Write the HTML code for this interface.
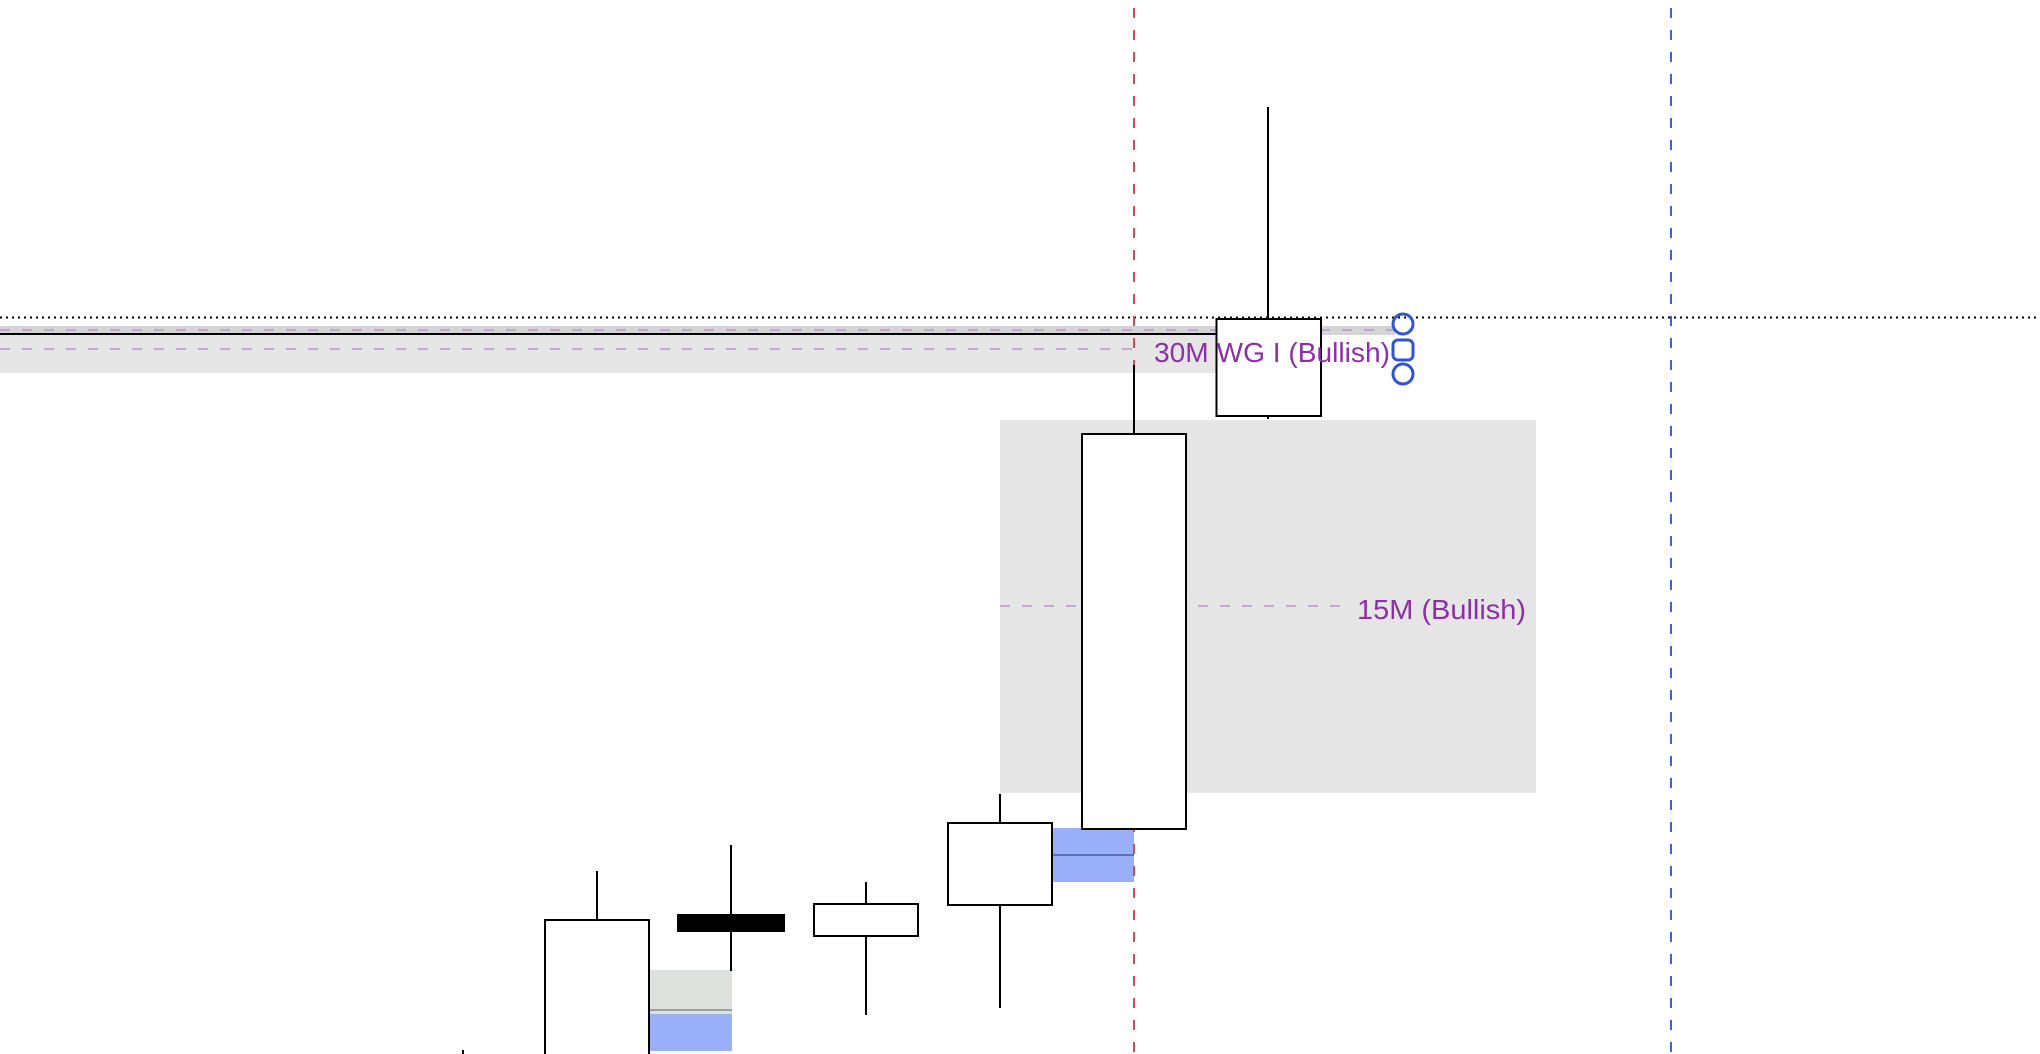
<!DOCTYPE html>
<html><head><meta charset="utf-8"><style>
html,body{margin:0;padding:0;background:#fff;width:2040px;height:1054px;overflow:hidden}
svg{display:block}
text{font-family:"Liberation Sans","DejaVu Sans",sans-serif}
</style></head><body>
<svg width="2040" height="1054" viewBox="0 0 2040 1054" xmlns="http://www.w3.org/2000/svg">
<rect x="0" y="326" width="1395" height="9" fill="#d4d4d4"/>
<rect x="0" y="335" width="1321" height="38" fill="#e6e6e6"/>
<line x1="0" y1="334" x2="1216" y2="334" stroke="#000" stroke-width="2"/>
<line x1="0" y1="330" x2="1395" y2="330" stroke="#c4a3d4" stroke-width="2" stroke-dasharray="10 12"/>
<line x1="0" y1="349" x2="1143" y2="349" stroke="#c9a6d8" stroke-width="2" stroke-dasharray="10 12"/>
<line x1="0" y1="317.5" x2="2040" y2="317.5" stroke="#000" stroke-width="2" stroke-dasharray="2 4"/>
<rect x="1000" y="420" width="536" height="373" fill="#e6e6e6"/>
<line x1="1000" y1="606" x2="1340" y2="606" stroke="#c9a6d8" stroke-width="2" stroke-dasharray="10 12"/>
<text x="1357" y="619" font-size="28" fill="#8e2fa8" textLength="169" lengthAdjust="spacingAndGlyphs">15M (Bullish)</text>
<rect x="1052" y="828" width="82" height="54" fill="#99aff7"/>
<line x1="1052" y1="855" x2="1134" y2="855" stroke="#5a6fb5" stroke-width="2"/>
<rect x="649" y="970" width="83" height="44" fill="#dce1de"/>
<line x1="649" y1="1010" x2="732" y2="1010" stroke="#9a9f9c" stroke-width="2"/>
<rect x="649" y="1014" width="83" height="37" fill="#99aff7"/>
<line x1="1134" y1="8" x2="1134" y2="1054" stroke="#e04850" stroke-width="2" stroke-dasharray="10 12"/>
<line x1="1671" y1="8" x2="1671" y2="1054" stroke="#3a5ef0" stroke-width="2" stroke-dasharray="10 12"/>
<g stroke="#000" stroke-width="2" fill="#fff">
<line x1="463" y1="1050" x2="463" y2="1054"/>
<line x1="597" y1="871" x2="597" y2="920"/>
<rect x="545" y="920" width="104" height="140"/>
<line x1="731" y1="845" x2="731" y2="971"/>
<rect x="678" y="915" width="106" height="16" fill="#000"/>
<line x1="866" y1="882" x2="866" y2="1015"/>
<rect x="814" y="904" width="104" height="32"/>
<line x1="1000" y1="794" x2="1000" y2="1008"/>
<rect x="948" y="823" width="104" height="82"/>
<line x1="1134" y1="365" x2="1134" y2="434"/>
<rect x="1082" y="434" width="104" height="395"/>
<line x1="1268" y1="107" x2="1268" y2="419"/>
<rect x="1216.5" y="319" width="104.5" height="97"/>
</g>
<text x="1154" y="362" font-size="28" fill="#8e2fa8" textLength="236" lengthAdjust="spacingAndGlyphs">30M WG I (Bullish)</text>
<g stroke="#2f55d4" stroke-width="3" fill="none">
<circle cx="1403" cy="324" r="10"/>
<rect x="1393" y="340" width="20" height="20" rx="5"/>
<circle cx="1403" cy="374" r="10"/>
</g>
</svg>
</body></html>
